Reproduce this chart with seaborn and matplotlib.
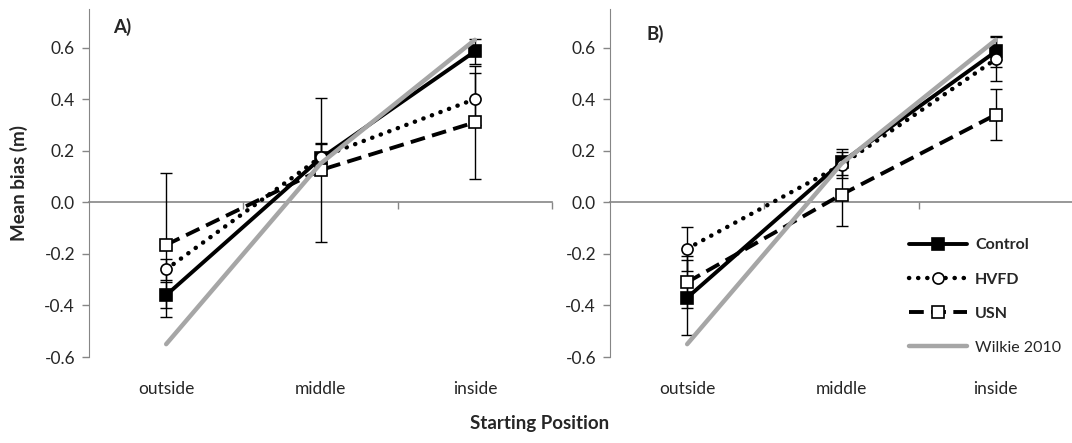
import numpy as np
import pandas as pd
import matplotlib
matplotlib.use('Agg')
import matplotlib.pyplot as plt
import seaborn as sns

sns.set_style('white')
plt.rcParams['font.family'] = ['Lato', 'DejaVu Sans']

positions = ['outside', 'middle', 'inside']
groups = ['Control', 'HVFD', 'USN', 'Wilkie 2010']

# panel A
a_control = [-0.36, 0.17, 0.585]
a_control_err = [0.05, 0.06, 0.05]
a_hvfd = [-0.26, 0.175, 0.40]
a_hvfd_err = [0.04, 0.05, 0.10]
a_usn = [-0.165, 0.125, 0.31]
a_usn_err = [0.28, 0.28, 0.22]

# panel B
b_control = [-0.37, 0.155, 0.585]
b_control_err = [0.145, 0.05, 0.06]
b_hvfd = [-0.18, 0.145, 0.555]
b_hvfd_err = [0.085, 0.05, 0.085]
b_usn = [-0.31, 0.03, 0.34]
b_usn_err = [0.10, 0.12, 0.10]

wilkie = [-0.55, 0.15, 0.63]

styles = {
    'Control': dict(color='black', lw=2.8, ls='-', marker='s', mfc='black', ms=9),
    'HVFD': dict(color='black', lw=3.2, ls=(0, (0.05, 2.0)), marker='o', mfc='white', ms=8),
    'USN': dict(color='black', lw=2.8, ls=(0, (3.8, 1.9)), marker='s', mfc='white', ms=9),
    'Wilkie 2010': dict(color='#a6a6a6', lw=3.2, ls='-', marker=None, mfc=None, ms=0),
}

spine_col = '#868686'
text_col = '#262626'


def make_df(control, hvfd, usn, c_err, h_err, u_err):
    rows = []
    for g, vals, errs in [('Control', control, c_err), ('HVFD', hvfd, h_err),
                          ('USN', usn, u_err), ('Wilkie 2010', wilkie, [0, 0, 0])]:
        for i, p in enumerate(positions):
            rows.append({'group': g, 'pos': p, 'x': i, 'bias': vals[i], 'err': errs[i]})
    return pd.DataFrame(rows)


fig = plt.figure(figsize=(10.72, 4.43), dpi=100)
axA = fig.add_axes([0.083, 0.194, 0.432, 0.786])
axB = fig.add_axes([0.569, 0.194, 0.432, 0.786])

dfA = make_df(a_control, a_hvfd, a_usn, a_control_err, a_hvfd_err, a_usn_err)
dfB = make_df(b_control, b_hvfd, b_usn, b_control_err, b_hvfd_err, b_usn_err)

for ax, df, lab in [(axA, dfA, 'A)'), (axB, dfB, 'B)')]:
    for g in groups:
        d = df[df.group == g]
        st = styles[g]
        if g != 'Wilkie 2010':
            ax.errorbar(d['x'], d['bias'], yerr=d['err'], fmt='none', ecolor='black',
                        elinewidth=1, capsize=4, capthick=1, zorder=2)
        sns.lineplot(data=d, x='x', y='bias', ax=ax, color=st['color'], lw=st['lw'],
                     linestyle=st['ls'], marker=st['marker'], markersize=st['ms'],
                     markerfacecolor=st['mfc'], markeredgecolor='black', markeredgewidth=1.2,
                     dash_capstyle='round' if g == 'HVFD' else 'butt',
                     label=g, zorder=3, legend=False)

    ax.set_xlim(-0.5, 2.5)
    ax.set_ylim(-0.6, 0.75)
    ax.set_yticks(np.arange(-0.6, 0.61, 0.2))
    ax.set_yticklabels([f'{v:.1f}' for v in np.arange(-0.6, 0.61, 0.2)])
    ax.set_xticks(range(3))
    ax.set_xticklabels(positions)
    ax.tick_params(axis='x', length=0, pad=17, labelsize=12.5, labelcolor=text_col)
    ax.tick_params(axis='y', direction='out', length=5, width=1, color=spine_col,
                   labelsize=12.5, labelcolor=text_col, left=True, pad=5)
    for s in ['top', 'right', 'bottom']:
        ax.spines[s].set_visible(False)
    ax.spines['left'].set_color(spine_col)
    ax.spines['left'].set_bounds(-0.6, 0.75)

    # zero line with category boundary ticks
    sec = ax.secondary_xaxis(0.6 / 1.35)
    sec.set_xticks([0.5, 1.5, 2.5])
    sec.set_xticklabels([])
    sec.tick_params(direction='out', length=5, width=1, color=spine_col)
    sec.spines['bottom'].set_color(spine_col)
    sec.spines['bottom'].set_linewidth(1.2)

    ax.set_xlabel('')
    ax.set_ylabel('')
    ax.text(0.052 if lab == 'A)' else 0.078, 0.975 if lab == 'A)' else 0.955, lab,
            transform=ax.transAxes, fontsize=13.5, fontweight='bold', color=text_col,
            va='top')

axA.set_ylabel('Mean bias (m)', fontsize=13.5, fontweight='bold', color=text_col, labelpad=12)
fig.text(0.503, 0.025, 'Starting Position', ha='center', va='bottom', fontsize=13.5,
         fontweight='bold', color=text_col)

handles, labels = axB.get_legend_handles_labels()
leg = axB.legend(handles, labels, loc='lower right', bbox_to_anchor=(1.005, -0.035), frameon=False,
                 handlelength=3.6, labelspacing=1.25, fontsize=11.5, handletextpad=0.5)
for t in leg.get_texts()[:3]:
    t.set_fontweight('bold')

fig.savefig('out.png', dpi=100)
